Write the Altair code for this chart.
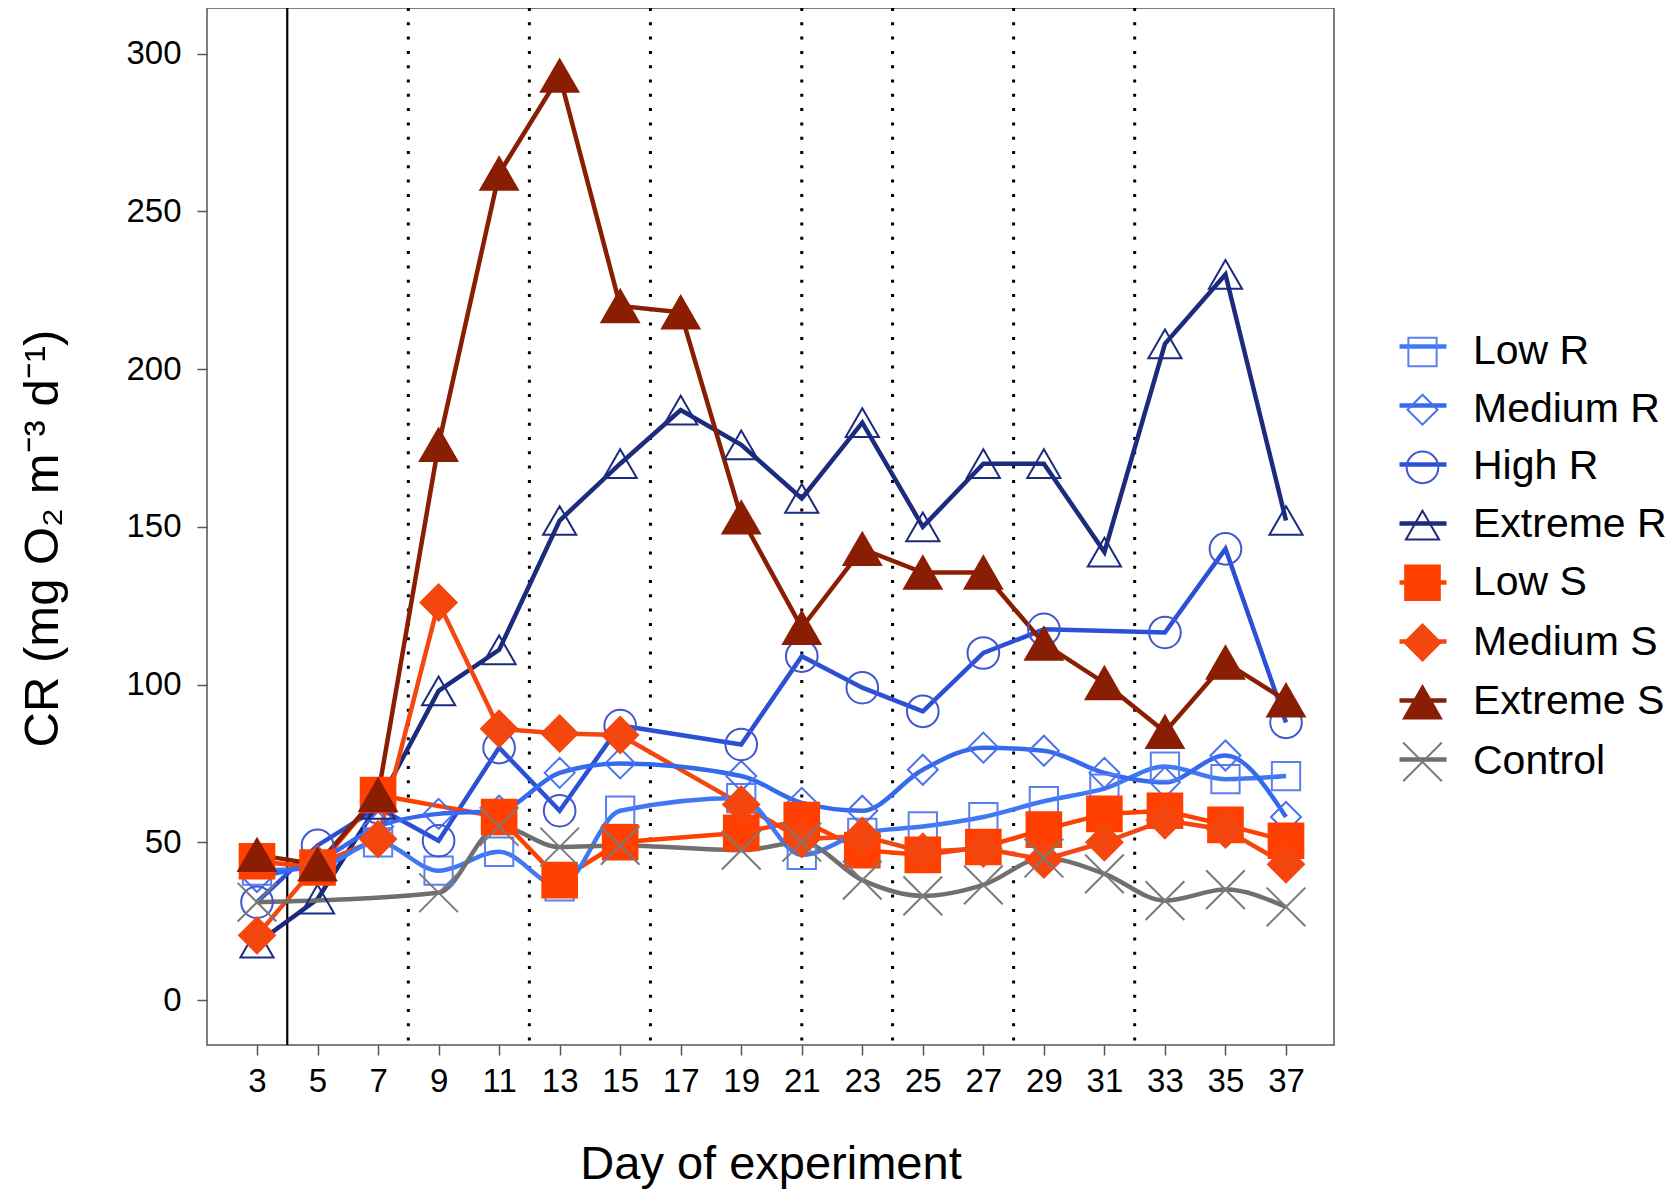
import altair as alt
import pandas as pd

N = None
days = [3, 5, 7, 9, 11, 13, 15, 17, 19, 21, 23, 25, 27, 29, 31, 33, 35, 37]
series_names = ["Low R", "Medium R", "High R", "Extreme R",
                "Low S", "Medium S", "Extreme S", "Control"]

low_r     = [41, 42, 50, 41, 47, 36, 60, N, 64, 46, 53, 55, 58, 63, 67, 74, 70, 71]
medium_r  = [39, 44, 55, 59, 60, 72, 75, N, 71, 62.5, 60, 73, 80, 79, 72, 69, 77.5, 58]
high_r    = [31, 49, 61, 50.5, 80, 60, 87, N, 81, 109, 99, 91.5, 110, 117.5, N, 116.5, 143, 88]
extreme_r = [18, 32, 62, 98, 111, 152, 170, 187, 176, 159, 183, 150, 170, 170, 142, 208, 230, 152]
low_s     = [44, 42, 65, N, 58, 38, 50, N, 53, 57, 47.5, 46, 48.5, 54, 59, 60, 55.5, 50.5]
medium_s  = [20.5, 43, 51, 126, 86, 84.5, 84, N, 62, 51, 52, 47, 48, 44.5, 50, 57, 54, 43]
extreme_s = [46, 43, 65, 176, 262, 293, 220, 218, 153, 118, 143, 135.5, 135.5, 113, 100.5, 85, 107, 95]
control   = [31, N, N, 34, 55, 48.5, 49, N, 47.5, 50, 38, 33, 36.5, 45, 40, 31.5, 35, 29.5]

all_values = [low_r, medium_r, high_r, extreme_r, low_s, medium_s, extreme_s, control]

smooth_series = ["Low R", "Medium R", "Control"]
solid_days = [4]
dotted_days = [8, 12, 16, 21, 24, 28, 32]
y_ticks = [0, 50, 100, 150, 200, 250, 300]

line_colors = ["#3F78F2", "#3569EE", "#2B50D6", "#1C2B7E",
               "#FF4000", "#F4470F", "#8A1E02", "#6F6F6F"]
pt_stroke = ["#5880F0", "#4A72EE", "#4057CF", "#1C2B7E",
             "#FF4000", "#F4470F", "#8A1E02", "#7A7A7A"]
pt_fill = ["transparent", "transparent", "transparent", "transparent",
           "#FF4000", "#F4470F", "#8A1E02", "transparent"]
pt_shape = ["square", "diamond", "circle", "triangle-up",
            "square", "diamond", "triangle-up", "M-1,-1L1,1M1,-1L-1,1"]
pt_size = [800, 1500, 700, 1550, 780, 650, 1450, 1000]

rows = []
for name, vals in zip(series_names, all_values):
    for d, v in zip(days, vals):
        if v is not None:
            rows.append({"day": d, "cr": v, "series": name,
                         "trt": name + " (line)",
                         "smooth": name in smooth_series})
df = pd.DataFrame(rows)
line_domain = [n + " (line)" for n in series_names]

FONT = "Liberation Sans"

x_enc = alt.X("day:Q",
              scale=alt.Scale(domain=[1.348, 38.586], nice=False, zero=False),
              axis=alt.Axis(values=days, title="Day of experiment",
                            titleY=133, titleBaseline="alphabetic",
                            labelPadding=10, labelFlush=False))
y_enc = alt.Y("cr:Q",
              scale=alt.Scale(domain=[-14.26, 314.45], nice=False, zero=False),
              axis=alt.Axis(values=y_ticks, title="CR (mg O₂ m⁻³ d⁻¹)",
                            titleX=-150, titleY=530, titleAngle=270,
                            titleAlign="center", titleBaseline="alphabetic",
                            labelPadding=16, labelFlush=False))

line_legend = alt.Legend(orient="none", legendX=1190, legendY=312.5,
                         symbolType="stroke", symbolSize=2209,
                         symbolStrokeWidth=4.5, labelOpacity=0,
                         labelExpr="' '",
                         labelFontSize=41, labelLimit=500, rowPadding=13.0,
                         title=None, labelOffset=25)
pt_legend = alt.Legend(orient="none", legendX=1195, legendY=323.5,
                       labelFontSize=41, labelFont=FONT, labelColor="black",
                       labelLimit=500, rowPadding=15.7, symbolStrokeWidth=2,
                       labelOffset=30, title=None, symbolOpacity=1)

base = alt.Chart(df)

solid = alt.Chart(pd.DataFrame({"day": solid_days})).mark_rule(
    color="black", strokeWidth=2.2).encode(x=alt.X("day:Q"))
dotted = alt.Chart(pd.DataFrame({"day": dotted_days})).mark_rule(
    color="black", strokeWidth=3, strokeDash=[3, 11.3]).encode(x=alt.X("day:Q"))

color_enc = alt.Color("trt:N",
                      scale=alt.Scale(domain=line_domain, range=line_colors),
                      legend=line_legend)

lines_lin = base.transform_filter("!datum.smooth").mark_line(
    strokeWidth=4.5).encode(x=x_enc, y=y_enc, color=color_enc)
lines_smooth = base.transform_filter("datum.smooth").mark_line(
    strokeWidth=4.5, interpolate="monotone").encode(x=x_enc, y=y_enc, color=color_enc)

points = base.mark_point(filled=True, opacity=1, strokeWidth=2).encode(
    x=x_enc, y=y_enc,
    stroke=alt.Stroke("series:N", scale=alt.Scale(domain=series_names, range=pt_stroke), legend=pt_legend),
    fill=alt.Fill("series:N", scale=alt.Scale(domain=series_names, range=pt_fill), legend=pt_legend),
    shape=alt.Shape("series:N", scale=alt.Scale(domain=series_names, range=pt_shape), legend=pt_legend),
    size=alt.Size("series:N", scale=alt.Scale(domain=series_names, range=pt_size), legend=pt_legend),
)

chart = alt.layer(solid, dotted, lines_lin, lines_smooth, points).properties(
    width=1127, height=1037,
    autosize=alt.AutoSizeParams(type="none"),
    padding={"left": 199, "top": 0, "right": 338, "bottom": 145},
).configure(font=FONT).configure_view(
    stroke="#555555", strokeWidth=1.5
).configure_axis(
    labelFont=FONT, labelFontSize=33, labelColor="black",
    titleFont=FONT, titleFontWeight="normal", titleColor="black",
    tickColor="#555555", tickSize=10, tickWidth=1.5,
    domain=False, grid=False
).configure_axisX(
    titleFontSize=47
).configure_axisY(
    titleFontSize=49
)

chart.save("out.html", embed_options={"renderer": "svg", "actions": False})
